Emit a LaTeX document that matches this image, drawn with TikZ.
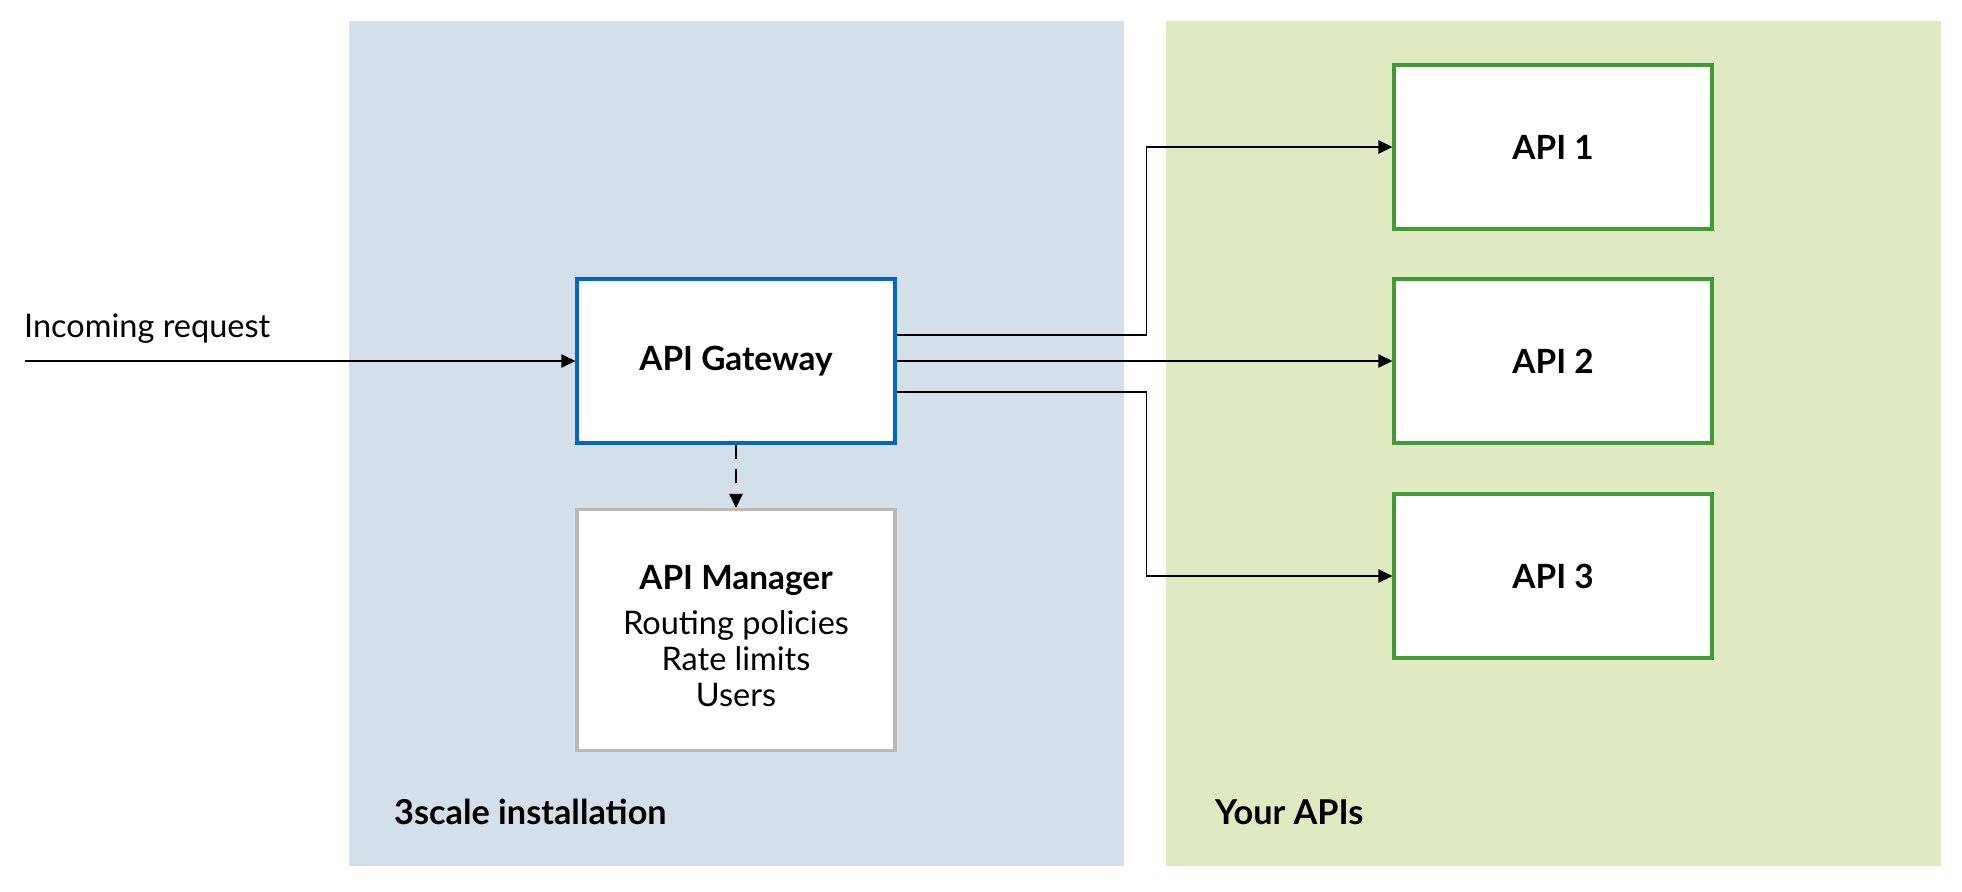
\documentclass[tikz,border=0pt]{standalone}
\usepackage{fontspec}
\setmainfont{Lato}
\usetikzlibrary{arrows.meta}
\usetikzlibrary{positioning}
\definecolor{installbg}{HTML}{D5DFEA}
\definecolor{apisbg}{HTML}{E0EAC2}
\definecolor{gwblue}{HTML}{0066CC}
\definecolor{apigreen}{HTML}{3F9C35}
\definecolor{mgrgray}{HTML}{B8B8B8}
\begin{document}
\begin{tikzpicture}[x=0.02cm, y=-0.02cm,
        box/.style={draw, fill=white, line width=1.8pt, minimum width=6.36cm,
                    minimum height=3.28cm, font=\fontsize{19}{21}\selectfont\bfseries},
        conn/.style={line width=1.1pt, -{Triangle[length=8pt, width=7.5pt]}},
        panel/.style={font=\fontsize{19.5}{21}\selectfont\bfseries, anchor=west}]
        \useasboundingbox (0,0) rectangle (1962,892);
        % panels
        \fill[installbg] (349,21) rectangle (1124,866);
        \fill[apisbg] (1166,21) rectangle (1941,866);
        \node[panel] (inst) at (388,812) {3scale installation};
        \node[panel] (yours) at (1209,812) {Your APIs};
        % gateway and manager
        \node[box, draw=gwblue] (gw) at (736,361) {API Gateway};
        \node[box, draw=mgrgray, minimum height=4.82cm, align=center,
              font=\fontsize{18.5}{20.6}\selectfont] (mgr) at (736,630)
              {\raisebox{0pt}[\height][0pt]{}{\fontsize{19}{21}\selectfont\bfseries API Manager}\\[5pt]
               Routing policies\\Rate limits\\Users\vspace{-7pt}};
        \draw[conn, dash pattern=on 8pt off 6pt] (gw) -- (mgr);
        % incoming
        \node[anchor=west, font=\fontsize{18.5}{21}\selectfont] (inc) at (18,329) {Incoming request};
        \coordinate (src) at (25,361);
        \draw[conn] (src) -- (gw);
        % backends
        \foreach \y [count=\c] in {147,361,576} {
           \node[box, draw=apigreen] (api\c) at (1553,\y) {API \c};
        }
        \draw[conn] ([yshift=0.52cm]gw.east) -- ++(5cm,0) |- (api1);
        \draw[conn] (gw.east) -- (api2);
        \draw[conn] ([yshift=-0.62cm]gw.east) -- ++(5cm,0) |- (api3);
\end{tikzpicture}
\end{document}
